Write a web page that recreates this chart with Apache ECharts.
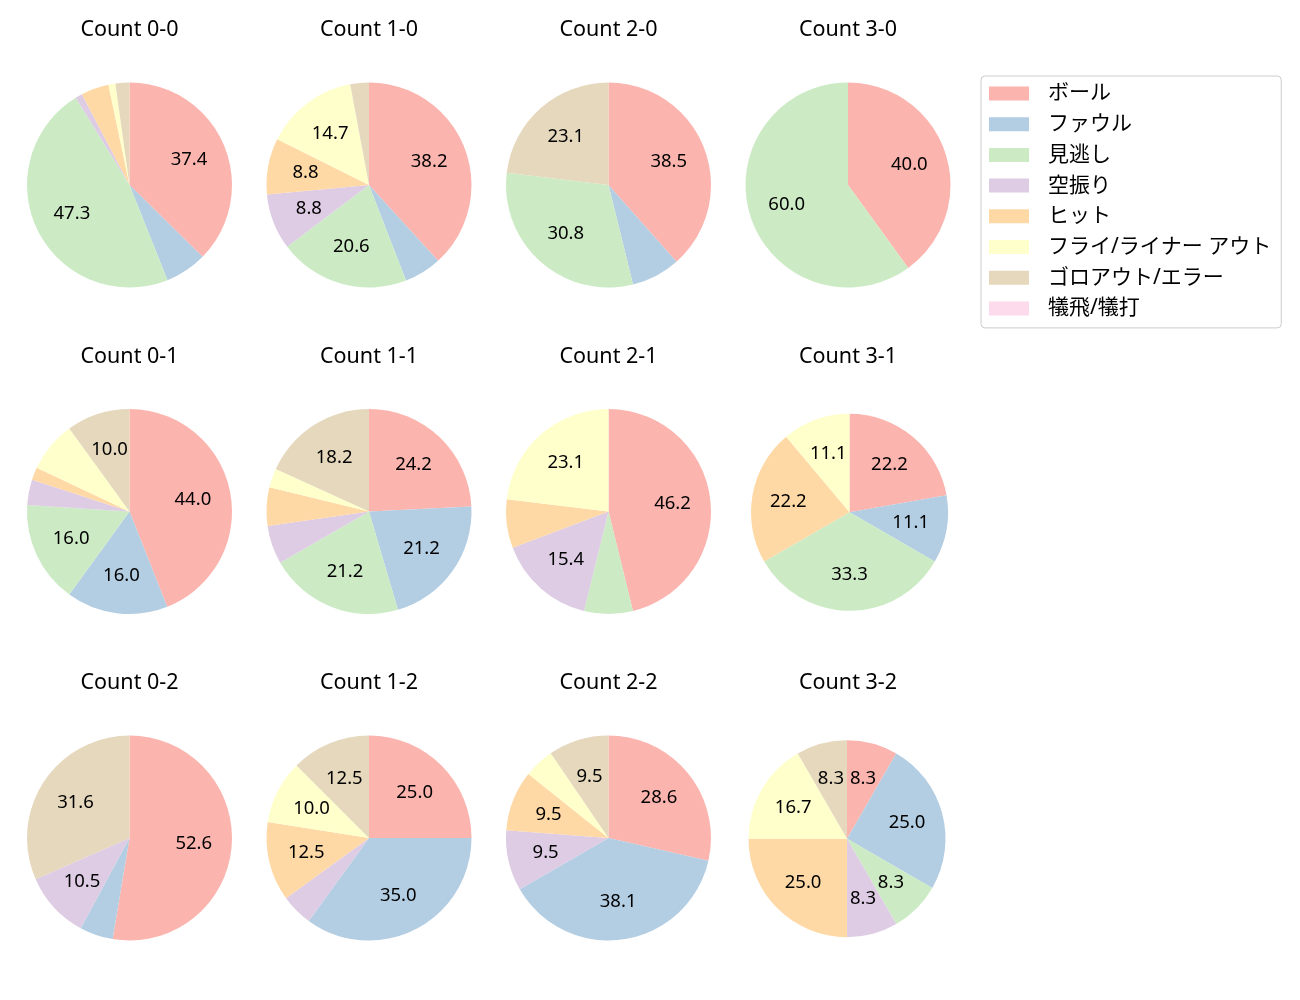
<!DOCTYPE html>
<html>
<head>
<meta charset="utf-8">
<script src="https://cdn.jsdelivr.net/npm/echarts@6/dist/echarts.min.js"></script>
<style>
  html, body { margin: 0; padding: 0; background: #fff; }
  #chart { width: 1300px; height: 1000px; }
</style>
</head>
<body>
<div id="chart"></div>
<script>
// categories (legend order)
const categories = ['ボール', 'ファウル', '見逃し', '空振り', 'ヒット', 'フライ/ライナー アウト', 'ゴロアウト/エラー', '犠飛/犠打']
const colors = ['#fbb4ae', '#b3cde3', '#ccebc5', '#decbe4', '#fed9a6', '#ffffcc', '#e5d8bd', '#fddaec']

// counts per ball-strike situation, in category order
const count00 = [34, 6, 43, 1, 4, 1, 2, 0]
const count10 = [13, 2, 7, 3, 3, 5, 1, 0]
const count20 = [5, 1, 4, 0, 0, 0, 3, 0]
const count30 = [2, 0, 3, 0, 0, 0, 0, 0]
const count01 = [22, 8, 8, 2, 1, 4, 5, 0]
const count11 = [8, 7, 7, 2, 2, 1, 6, 0]
const count21 = [6, 0, 1, 2, 1, 3, 0, 0]
const count31 = [2, 1, 3, 0, 2, 1, 0, 0]
const count02 = [10, 1, 0, 2, 0, 0, 6, 0]
const count12 = [10, 14, 0, 2, 5, 4, 5, 0]
const count22 = [6, 8, 0, 2, 2, 1, 2, 0]
const count32 = [1, 3, 1, 1, 3, 2, 1, 0]

const panels = [
  { title: 'Count 0-0', values: count00 },
  { title: 'Count 1-0', values: count10 },
  { title: 'Count 2-0', values: count20 },
  { title: 'Count 3-0', values: count30 },
  { title: 'Count 0-1', values: count01 },
  { title: 'Count 1-1', values: count11 },
  { title: 'Count 2-1', values: count21 },
  { title: 'Count 3-1', values: count31 },
  { title: 'Count 0-2', values: count02 },
  { title: 'Count 1-2', values: count12 },
  { title: 'Count 2-2', values: count22 },
  { title: 'Count 3-2', values: count32 },
]

const FONT = '"Noto Sans", "Noto Sans CJK JP", sans-serif'
const colX = [129.5, 369, 608.5, 848]
const rowY = [185, 511.5, 838]
const titleY = [19.5, 346.5, 672.5]

const chart = echarts.init(document.getElementById('chart'), null, { renderer: 'canvas' })

const titles = []
const pieSeries = []
const labelSeries = []

panels.forEach((p, i) => {
  const col = i % 4
  const row = Math.floor(i / 4)
  // the last two panels in column 4 come out a bit smaller
  let r = 102.5
  let cx = colX[col]
  let cy = rowY[row]
  if (i === 7) { r = 98.5; cx = 849.5; cy = 512.3 }
  if (i === 11) { r = 98.5; cx = 847; cy = 838.7 }

  titles.push({
    text: p.title,
    left: colX[col],
    top: titleY[row],
    textAlign: 'center',
    padding: 0,
    textStyle: { fontFamily: FONT, fontSize: 21.5, fontWeight: 'normal', color: '#000' },
  })

  const total = p.values.reduce((a, b) => a + b, 0)
  const data = categories.map((name, k) => ({ name, value: p.values[k] }))

  pieSeries.push({
    type: 'pie',
    center: [cx, cy],
    radius: [0, r],
    startAngle: 90,
    clockwise: true,
    avoidLabelOverlap: false,
    silent: true,
    label: { show: false },
    labelLine: { show: false },
    itemStyle: { borderWidth: 0 },
    data,
  })

  // transparent copy only to place the percent labels at 0.6 r
  labelSeries.push({
    type: 'pie',
    center: [cx, cy],
    radius: [r * 0.2, r],
    startAngle: 90,
    clockwise: true,
    avoidLabelOverlap: false,
    silent: true,
    itemStyle: { color: 'rgba(0,0,0,0)', borderWidth: 0 },
    labelLine: { show: false },
    label: {
      show: true,
      position: 'inside',
      fontFamily: FONT,
      fontSize: 18.5,
      color: '#000',
      formatter: (d) => {
        const pct = d.value / total * 100
        return pct > 8 ? pct.toFixed(1) : ''
      },
    },
    data,
  })
})

chart.setOption({
  animation: false,
  color: colors,
  title: titles,
  legend: {
    orient: 'vertical',
    left: 981,
    top: 76,
    data: categories,
    icon: 'rect',
    itemWidth: 40,
    itemHeight: 14,
    itemGap: 9.7,
    padding: [7, 10, 9, 8],
    borderColor: '#cccccc',
    borderWidth: 1,
    borderRadius: 4,
    selectedMode: false,
    textStyle: {
      fontFamily: FONT,
      fontSize: 21,
      lineHeight: 20,
      color: '#000',
      padding: [0, 0, 0, 14],
    },
  },
  series: pieSeries.concat(labelSeries),
})
</script>
</body>
</html>
